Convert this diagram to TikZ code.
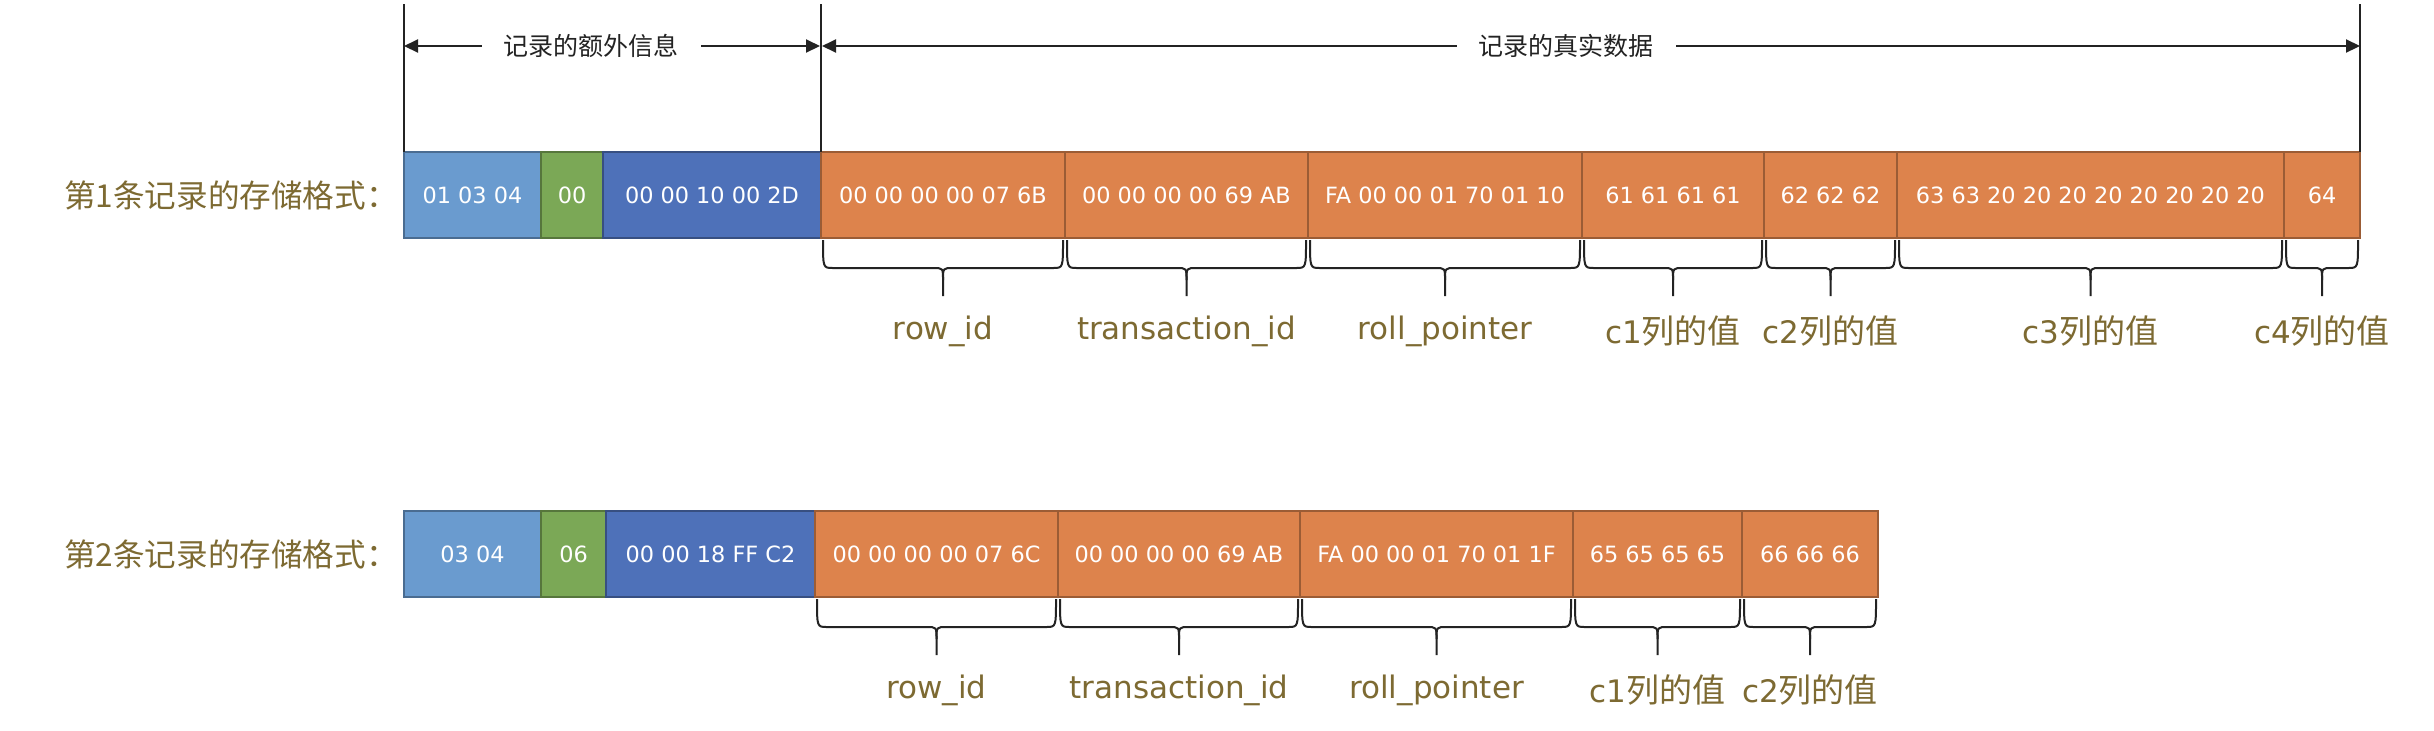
\documentclass[tikz,border=0pt]{standalone}
\usepackage{fontspec}
\setmainfont{DejaVu Sans}
\newfontfamily\cjk{Noto Sans CJK SC}
\usetikzlibrary{arrows.meta}
\definecolor{ltblue}{RGB}{106,155,207}
\definecolor{grn}{RGB}{123,168,86}
\definecolor{dkblue}{RGB}{78,113,185}
\definecolor{org}{RGB}{221,131,76}
\definecolor{lbl}{RGB}{125,106,50}
\definecolor{dimc}{RGB}{35,35,35}
\tikzset{
  cellbox/.style={inner sep=0pt, outer sep=0pt, minimum height=43pt, line width=0.6pt,
    text=white, font=\fontsize{11.2}{13}\selectfont},
  brc/.style={draw=dimc, line width=1pt},
  lab/.style={text=lbl, font=\fontsize{15.5}{18}\selectfont, inner sep=0pt},
  rowlab/.style={text=lbl, font=\cjk\fontsize{15.8}{18}\selectfont, inner sep=0pt},
  toplab/.style={fill=white, text=dimc, font=\cjk\fontsize{12.5}{15}\selectfont, inner xsep=11pt, inner ysep=2pt},
  dimline/.style={draw=dimc, line width=0.7pt},
  dimarrow/.style={draw=dimc, line width=1pt, {Triangle[length=7pt,width=6.5pt]}-{Triangle[length=7pt,width=6.5pt]}}
}
\newcommand\cjklab[1]{{\cjk\fontsize{16.5}{18}\selectfont #1}}
\newcommand\mycell[6]{%
  \pgfmathsetmacro\cw{(#3-#2)*0.5}%
  \node[cellbox, fill=#5, draw=#5!70!black, minimum width=\cw pt, anchor=north west] (#1) at (#2,#4) {#6};%
}
\newcommand\mybrace[5]{%
  \pgfmathsetmacro\brA{#2+2}%
  \pgfmathsetmacro\brB{#3-2}%
  \pgfmathsetmacro\brM{(#2+#3)/2}%
  \pgfmathsetmacro\brY{#4+28}%
  \pgfmathsetmacro\brT{#4+56}%
  \pgfmathsetmacro\brL{#4+91}%
  \draw[brc] (\brA,#4) .. controls (\brA,\brY) and (\brA,\brY) .. (\brA+10,\brY) -- (\brM-10,\brY) .. controls (\brM,\brY) and (\brM,\brY) .. (\brM,\brY+12) -- (\brM,\brT);
  \draw[brc] (\brB,#4) .. controls (\brB,\brY) and (\brB,\brY) .. (\brB-10,\brY) -- (\brM+10,\brY) .. controls (\brM,\brY) and (\brM,\brY) .. (\brM,\brY+12);
  \coordinate (#1) at (\brM,\brT);
  \node[lab] (#1-l) at (\brM,\brL) {#5};%
}
\begin{document}
\begin{tikzpicture}[x=0.5pt,y=-0.5pt]
\useasboundingbox[fill=white] (0,0) rectangle (2434,730);

% row 1
\mycell{r1a}{404}{541}{152}{ltblue}{01 03 04}
\mycell{r1b}{541}{603}{152}{grn}{00}
\mycell{r1c}{603}{821}{152}{dkblue}{00 00 10 00 2D}
\mycell{r1d}{821}{1065}{152}{org}{00 00 00 00 07 6B}
\mycell{r1e}{1065}{1308}{152}{org}{00 00 00 00 69 AB}
\mycell{r1f}{1308}{1582}{152}{org}{FA 00 00 01 70 01 10}
\mycell{r1g}{1582}{1764}{152}{org}{61 61 61 61}
\mycell{r1h}{1764}{1897}{152}{org}{62 62 62}
\mycell{r1i}{1897}{2284}{152}{org}{63 63 20 20 20 20 20 20 20 20}
\mycell{r1j}{2284}{2360}{152}{org}{64}
\node[rowlab, anchor=east] (lab1) at (398,195) {第1条记录的存储格式：};

% row 2
\mycell{r2a}{404}{541}{511}{ltblue}{03 04}
\mycell{r2b}{541}{606}{511}{grn}{06}
\mycell{r2c}{606}{815}{511}{dkblue}{00 00 18 FF C2}
\mycell{r2d}{815}{1058}{511}{org}{00 00 00 00 07 6C}
\mycell{r2e}{1058}{1300}{511}{org}{00 00 00 00 69 AB}
\mycell{r2f}{1300}{1573}{511}{org}{FA 00 00 01 70 01 1F}
\mycell{r2g}{1573}{1742}{511}{org}{65 65 65 65}
\mycell{r2h}{1742}{1878}{511}{org}{66 66 66}
\node[rowlab, anchor=east] (lab2) at (398,554) {第2条记录的存储格式：};

% dimension lines
\coordinate (d1) at (404,4);
\coordinate (d2) at (821,4);
\coordinate (d3) at (2360,4);
\draw[dimline] (d1) -- (r1a.north west);
\draw[dimline] (d2) -- (r1d.north west);
\draw[dimline] (d3) -- (r1j.north east);
\coordinate (a1) at (404,46);
\coordinate (a2) at (820,46);
\coordinate (a2b) at (822,46);
\coordinate (a3) at (2360,46);
\draw[dimarrow] (a1) -- node[pos=0.45, toplab] (t1) {记录的额外信息} (a2);
\draw[dimarrow] (a2b) -- node[pos=0.484, toplab] (t2) {记录的真实数据} (a3);

% braces row 1
\mybrace{b1a}{821}{1065}{240}{row\_id}
\mybrace{b1b}{1065}{1308}{240}{transaction\_id}
\mybrace{b1c}{1308}{1582}{240}{roll\_pointer}
\mybrace{b1d}{1582}{1764}{240}{c1\cjklab{列的值}}
\mybrace{b1e}{1764}{1897}{240}{c2\cjklab{列的值}}
\mybrace{b1f}{1897}{2284}{240}{c3\cjklab{列的值}}
\mybrace{b1g}{2284}{2360}{240}{c4\cjklab{列的值}}

% braces row 2
\mybrace{b2a}{815}{1058}{599}{row\_id}
\mybrace{b2b}{1058}{1300}{599}{transaction\_id}
\mybrace{b2c}{1300}{1573}{599}{roll\_pointer}
\mybrace{b2d}{1573}{1742}{599}{c1\cjklab{列的值}}
\mybrace{b2e}{1742}{1878}{599}{c2\cjklab{列的值}}
\end{tikzpicture}
\end{document}
